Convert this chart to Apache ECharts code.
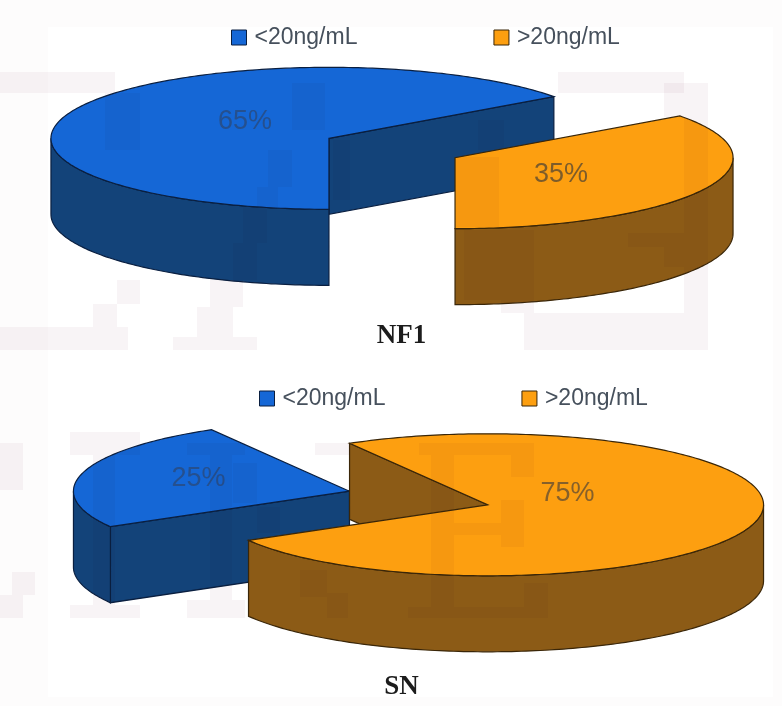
<!DOCTYPE html>
<html>
<head>
<meta charset="utf-8">
<style>html,body{margin:0;padding:0;background:#fff}#chart{width:782px;height:706px}</style>
<script src="https://cdn.jsdelivr.net/npm/echarts@6/dist/echarts.min.js"></script>
</head>
<body>
<div id="chart"></div>
<script>
// Serum level groups and their shares (percent) for each cohort
const categories = ['<20ng/mL', '>20ng/mL'];
const nf1Shares = [65, 35];
const snShares = [25, 75];

const palette = [
  { top: '#1567d6', side: '#134379', line: '#0a1f40' },
  { top: '#fd9f10', side: '#8c5b16', line: '#3a2608' }
];

// Placement of each extruded pie: slices are pushed out along their bisector
const pies = [
  {
    title: 'NF1', shares: nf1Shares, center: [392, 148], radius: [278, 71], depth: 76,
    startAngle: 36, explode: [0.2545, 0.3], titleTop: 318, legendTop: 21, legendLeft: 226,
    labelAt: [[-84, -17], [106, 17]], labelFill: ['#25508f', '#7d5c2a']
  },
  {
    title: 'SN', shares: snShares, center: [418.5, 498], radius: [276, 71], depth: 76,
    startAngle: 120, explode: [0.259, 0.37], titleTop: 669, legendTop: 382, legendLeft: 254,
    labelAt: [[-151, -13], [80, -11]], labelFill: ['#25508f', '#86602a']
  }
];

// Faint block-shaped print-through lying over the whole sheet
const printBlocks = [
  // upper panel, left
  [0, 72, 115, 21], [105, 93, 35, 57], [292, 83, 33, 47], [268, 150, 24, 37], [257, 187, 21, 20],
  [243, 207, 24, 36], [233, 243, 24, 37], [333, 140, 17, 60], [117, 280, 23, 24], [93, 304, 24, 23],
  [0, 327, 128, 23], [210, 280, 33, 27], [197, 307, 36, 30], [173, 337, 84, 13],
  // upper panel, right
  [558, 72, 126, 21], [684, 83, 24, 164], [664, 83, 20, 34], [456, 157, 43, 70], [464, 230, 70, 70],
  [628, 233, 56, 14], [664, 247, 20, 20], [684, 247, 24, 90], [501, 300, 33, 13], [524, 313, 160, 37],
  [684, 337, 24, 13], [478, 120, 26, 30],
  // lower panel, left
  [70, 432, 70, 23], [93, 455, 22, 150], [70, 605, 70, 13], [187, 443, 58, 12], [210, 455, 22, 145],
  [187, 600, 58, 18], [233, 463, 24, 40], [257, 507, 23, 26], [300, 570, 27, 27], [327, 593, 21, 25],
  [0, 443, 23, 47], [12, 572, 23, 23], [0, 595, 23, 23], [315, 443, 35, 12],
  // lower panel, right
  [419, 443, 115, 12], [431, 455, 23, 152], [511, 455, 23, 22], [501, 500, 23, 47], [454, 523, 47, 12],
  [408, 607, 140, 11], [524, 583, 24, 24]
];

const rad = d => d * Math.PI / 180;

function arcPoints(cx, cy, rx, ry, from, to, dy) {
  const pts = [];
  const n = Math.max(2, Math.ceil(Math.abs(to - from)));
  for (let i = 0; i <= n; i++) {
    const a = rad(from + (to - from) * i / n);
    pts.push([cx + rx * Math.cos(a), cy - ry * Math.sin(a) + dy]);
  }
  return pts;
}

function sliceRenderer(pie, index) {
  return function (params, api) {
    const value = api.value(0);
    const total = pie.shares.reduce((s, v) => s + v, 0);
    const before = pie.shares.slice(0, index).reduce((s, v) => s + v, 0);
    const a = pie.startAngle + before / total * 360;
    const b = a + value / total * 360;
    const mid = rad((a + b) / 2);
    const [rx, ry] = pie.radius;
    const cx = pie.center[0] + Math.cos(mid) * rx * pie.explode[0];
    const cy = pie.center[1] - Math.sin(mid) * ry * pie.explode[1];
    const d = pie.depth;
    const colors = palette[index];
    const children = [];
    const poly = (points, fill) => children.push({
      type: 'polygon',
      shape: { points },
      style: { fill, stroke: colors.line, lineWidth: 1.2 }
    });

    // Cut faces that turn towards the viewer
    const wall = ang => {
      const t = rad(ang);
      const ex = cx + rx * Math.cos(t), ey = cy - ry * Math.sin(t);
      poly([[cx, cy], [ex, ey], [ex, ey + d], [cx, cy + d]], colors.side);
    };
    if (Math.sin(rad(a - 90)) < -1e-6) wall(a);
    if (Math.sin(rad(b + 90)) < -1e-6) wall(b);

    // Outer rim on the front half of the ellipse
    [-360, 0, 360].forEach(k => {
      const lo = Math.max(a, 180 + k), hi = Math.min(b, 360 + k);
      if (hi > lo) {
        poly(arcPoints(cx, cy, rx, ry, lo, hi, 0)
          .concat(arcPoints(cx, cy, rx, ry, hi, lo, d)), colors.side);
      }
    });

    // Top face
    poly([[cx, cy]].concat(arcPoints(cx, cy, rx, ry, a, b, 0)), colors.top);

    children.push({
      type: 'text',
      style: {
        text: value + '%',
        x: cx + pie.labelAt[index][0],
        y: cy + pie.labelAt[index][1],
        fill: pie.labelFill[index],
        font: '27px "Liberation Sans", Arial, sans-serif',
        textAlign: 'center',
        textVerticalAlign: 'middle'
      }
    });
    return { type: 'group', children };
  };
}

const series = [];
pies.forEach(pie => {
  pie.shares.forEach((value, i) => {
    series.push({
      type: 'custom',
      name: categories[i],
      coordinateSystem: 'none',
      silent: true,
      clip: false,
      itemStyle: { color: palette[i].top },
      data: [[value]],
      renderItem: sliceRenderer(pie, i)
    });
  });
});

const chart = echarts.init(document.getElementById('chart'), null, { renderer: 'canvas' });
chart.setOption({
  animation: false,
  backgroundColor: '#fdfcfc',
  title: pies.map(pie => ({
    text: pie.title,
    left: 396.5,
    top: pie.titleTop,
    textAlign: 'center',
    textStyle: { fontFamily: '"Liberation Serif", serif', fontWeight: 'bold', fontSize: 27, color: '#1c1c1c' }
  })),
  legend: pies.map(pie => ({
    left: pie.legendLeft,
    top: pie.legendTop,
    orient: 'horizontal',
    itemWidth: 15,
    itemHeight: 15,
    itemGap: 136,
    selectedMode: false,
    textStyle: { fontFamily: '"Liberation Sans", Arial, sans-serif', fontSize: 23, color: '#46505c', padding: [0, 0, 0, 3] },
    data: categories.map((name, i) => ({
      name,
      icon: 'rect',
      itemStyle: { color: palette[i].top, borderColor: palette[i].line, borderWidth: 1 }
    }))
  })),
  series,
  graphic: [{
    type: 'rect',
    silent: true,
    z: -1,
    shape: { x: 48, y: 27, width: 725, height: 670 },
    style: { fill: '#ffffff' }
  }].concat(printBlocks.map(([x, y, width, height]) => ({
    type: 'rect',
    silent: true,
    z: 100,
    shape: { x, y, width, height },
    style: { fill: '#f8f4f6', blend: 'multiply' }
  })))
});
</script>
</body>
</html>
